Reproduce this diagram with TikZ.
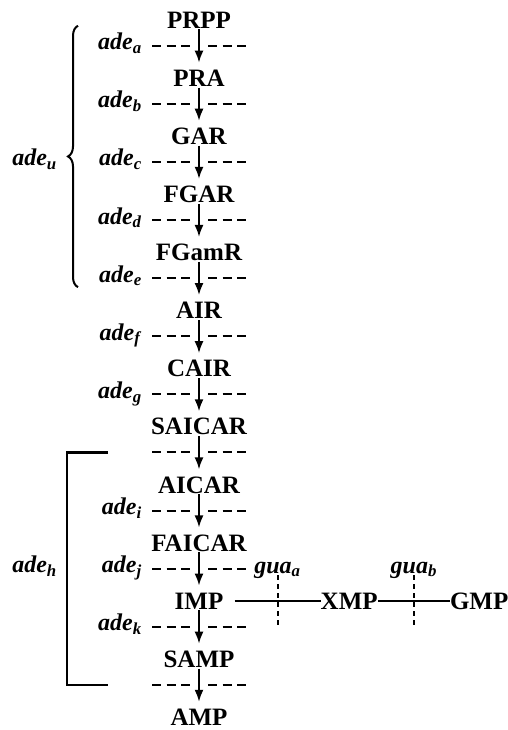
\documentclass[tikz,border=0pt]{standalone}
\usepackage{fontspec}
\setmainfont{Liberation Serif}
\usetikzlibrary{arrows.meta,positioning,calc,decorations.pathreplacing}

\newcommand{\gn}[2]{\textit{#1}\textsubscript{\textit{#2}}}

\begin{document}
\begin{tikzpicture}[
    m/.style={inner sep=0pt,text height=16.5pt,text depth=0pt,font=\fontsize{25}{30}\selectfont\bfseries},
    gene/.style={inner sep=0pt,anchor=base east,font=\fontsize{24}{30}\selectfont\bfseries},
    flow/.style={-{Latex[length=12pt,width=9pt]},line width=1.8pt,shorten <=1pt,shorten >=7pt},
    cut/.style={line width=2pt,dash pattern=on 9pt off 5.5pt},
    link/.style={line width=1.8pt},
    node distance=41.2pt
  ]
  \useasboundingbox (0,0) rectangle (508pt,-730pt);

  % main chain
  \node[m] (prpp) at (199pt,-20pt) {PRPP};
  \node[m,below=of prpp] (pra) {PRA};
  \node[m,below=of pra] (gar) {GAR};
  \node[m,below=of gar] (fgar) {FGAR};
  \node[m,below=of fgar] (fgamr) {FGamR};
  \node[m,below=of fgamr] (air) {AIR};
  \node[m,below=of air] (cair) {CAIR};
  \node[m,below=of cair] (saicar) {SAICAR};
  \node[m,below=of saicar] (aicar) {AICAR};
  \node[m,below=of aicar] (faicar) {FAICAR};
  \node[m,below=of faicar] (imp) {IMP};
  \node[m,below=of imp] (samp) {SAMP};
  \node[m,below=of samp] (amp) {AMP};
  \node[m,right=97pt of imp] (xmp) {XMP};
  \node[m,right=72pt of xmp] (gmp) {GMP};

  \draw[flow] (prpp) -- coordinate[pos=0.42] (c1) (pra);
  \draw[flow] (pra) -- coordinate[pos=0.42] (c2) (gar);
  \draw[flow] (gar) -- coordinate[pos=0.42] (c3) (fgar);
  \draw[flow] (fgar) -- coordinate[pos=0.42] (c4) (fgamr);
  \draw[flow] (fgamr) -- coordinate[pos=0.42] (c5) (air);
  \draw[flow] (air) -- coordinate[pos=0.42] (c6) (cair);
  \draw[flow] (cair) -- coordinate[pos=0.42] (c7) (saicar);
  \draw[flow] (saicar) -- coordinate[pos=0.42] (c8) (aicar);
  \draw[flow] (aicar) -- coordinate[pos=0.42] (c9) (faicar);
  \draw[flow] (faicar) -- coordinate[pos=0.42] (c10) (imp);
  \draw[flow] (imp) -- coordinate[pos=0.42] (c11) (samp);
  \draw[flow] (samp) -- coordinate[pos=0.42] (c12) (amp);

  % blocked steps
  \foreach \i in {1,...,12}
    \draw[cut] ([xshift=-47pt]c\i) -- ([xshift=-9pt]c\i)
               ([xshift=9pt]c\i) -- ([xshift=47pt]c\i);

  \node[gene] (la) at ([xshift=-57pt,yshift=-4pt]c1) {\gn{ade}{a}};
  \node[gene] (lb) at ([xshift=-57pt,yshift=-4pt]c2) {\gn{ade}{b}};
  \node[gene] (lc) at ([xshift=-57pt,yshift=-4pt]c3) {\gn{ade}{c}};
  \node[gene] (ld) at ([xshift=-57pt,yshift=-4pt]c4) {\gn{ade}{d}};
  \node[gene] (le) at ([xshift=-57pt,yshift=-4pt]c5) {\gn{ade}{e}};
  \node[gene] (lf) at ([xshift=-57pt,yshift=-4pt]c6) {\gn{ade}{f}};
  \node[gene] (lg) at ([xshift=-57pt,yshift=-4pt]c7) {\gn{ade}{g}};
  \node[gene] (li) at ([xshift=-57pt,yshift=-4pt]c9) {\gn{ade}{i}};
  \node[gene] (lj) at ([xshift=-57pt,yshift=-4pt]c10) {\gn{ade}{j}};
  \node[gene] (lk) at ([xshift=-57pt,yshift=-4pt]c11) {\gn{ade}{k}};

  % gua branch
  \draw[link] ([xshift=11pt]imp.east) -- coordinate[midway] (ga) (xmp);
  \draw[link] (xmp) -- coordinate[midway] (gb) (gmp);
  \draw[cut,dash pattern=on 5pt off 4pt] ([yshift=26pt]ga) -- ([yshift=-27pt]ga);
  \draw[cut,dash pattern=on 5pt off 4pt] ([yshift=26pt]gb) -- ([yshift=-27pt]gb);
  \node[gene,anchor=base] (gua) at ([yshift=28pt]ga) {\gn{gua}{a}};
  \node[gene,anchor=base] (gub) at ([yshift=28pt]gb) {\gn{gua}{b}};

  % groups
  \draw[link,line width=2pt,decorate,decoration={brace,amplitude=10pt}]
    ([xshift=-121pt,yshift=-9pt]c5) -- ([xshift=-121pt,yshift=20pt]c1);
  \node[gene] (adeu) at ($(c1)!0.5!(c5)+(-142pt,-4pt)$) {\gn{ade}{u}};
  \draw[link,line width=2.2pt] ([xshift=-91pt]c8) -| ([xshift=-132pt]c12) -- ([xshift=-91pt]c12);
  \node[gene] (adeh) at ($(c8)!0.5!(c12)+(-142pt,-4pt)$) {\gn{ade}{h}};
\end{tikzpicture}
\end{document}
